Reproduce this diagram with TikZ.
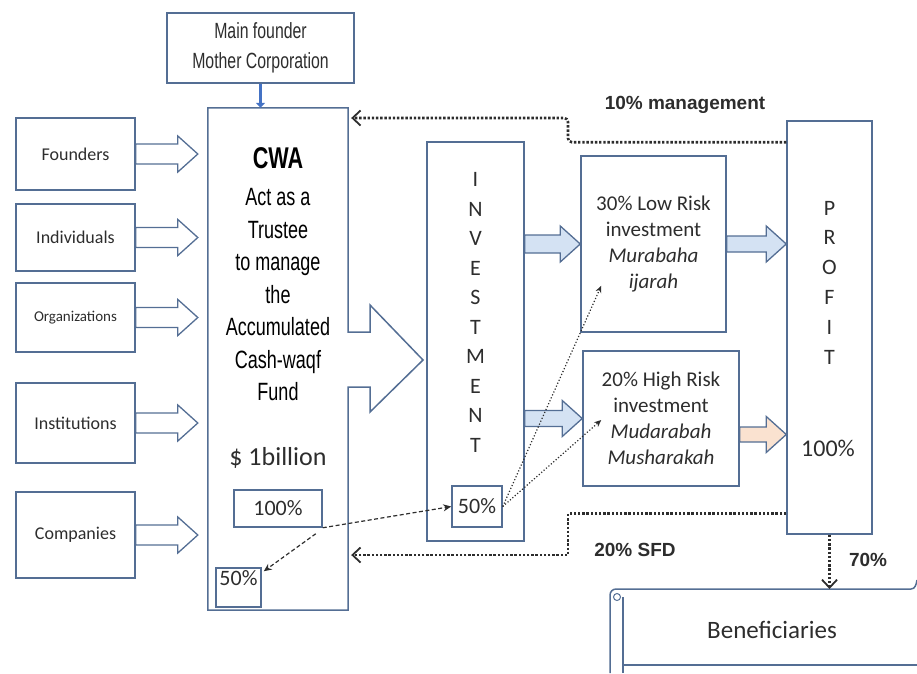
\documentclass[tikz,border=0pt]{standalone}
\usepackage{fontspec}
\setmainfont{Carlito}
\newfontfamily\agency[FakeStretch=0.72]{Liberation Sans}
\newfontfamily\arialfont{Liberation Sans}
\usetikzlibrary{arrows.meta,calc}
\definecolor{edgeblue}{RGB}{84,110,148}
\definecolor{inkgray}{RGB}{45,45,45}
\definecolor{paleblue}{RGB}{212,226,243}
\definecolor{palepeach}{RGB}{250,226,208}
\definecolor{founderblue}{RGB}{68,114,196}
\tikzset{
  box/.style={draw=edgeblue,line width=1.5pt,text=inkgray},
  srcbox/.style={box,minimum width=119,font=\fontsize{18}{20}\selectfont},
  pct/.style={text=inkgray,font=\fontsize{22}{24}\selectfont},
  dotline/.style={dash pattern=on 2.4pt off 1.8pt,line width=2.6pt,inkgray,
    -{Straight Barb[length=8pt,width=15pt,line width=1.8pt]}},
  dashline/.style={dash pattern=on 4pt off 2.5pt,line width=1.2pt,inkgray,-{Stealth[length=8pt,width=7pt]}},
  fineline/.style={dotted,line width=1.2pt,inkgray,-{Stealth[length=7pt,width=6pt]}},
  bigtag/.style={text=inkgray,font=\arialfont\bfseries\fontsize{19}{22}\selectfont},
}
\newcommand\fatarrow[4][]{\draw[draw=edgeblue,line width=1.3pt,#1] let \p1=(#2), \p2=(#3) in
  (\x1,\y1+#4) -- (\x2-20pt,\y1+#4) -- (\x2-20pt,\y1+18pt) -- (\x2,\y1)
  -- (\x2-20pt,\y1-18pt) -- (\x2-20pt,\y1-#4) -- (\x1,\y1-#4) -- cycle;}

\begin{document}
\begin{tikzpicture}[x=1pt,y=-1pt]
  \useasboundingbox (0,0) rectangle (917,673);
  \node[box,minimum width=187,minimum height=70,align=center,
    font=\agency\fontsize{22}{30}\selectfont] (founder) at (260.5,48) {Main founder\\Mother Corporation};
  \node[minimum width=140,minimum height=502] (cwa) at (278,359) {};
  \draw[box] (cwa.north west) -- (cwa.north east) -- (348,332) -- (370,332) -- (370,305)
    -- (423,360) -- (370,412) -- (370,387) -- (348,387) -- (cwa.south east) -- (cwa.south west) -- cycle;
  \node[text=black,font=\agency\bfseries\fontsize{30}{32}\selectfont] (cwatitle) at (278,158) {CWA};
  \node[text=black,align=center,font=\agency\fontsize{25}{32.5}\selectfont] (cwatext) at (278,295)
    {Act as a\\Trustee\\to manage\\the\\Accumulated\\Cash-waqf\\Fund};
  \node[text=inkgray,font=\fontsize{26}{28}\selectfont] (billion) at (278,458) {\$ 1billion};
  \node[box,pct,minimum width=88,minimum height=37] (pct100) at (278,508.5) {100\%};
  \node[box,minimum width=45,minimum height=39,label={[pct,yshift=9]center:50\%}] (cwa50) at (238.5,587.5) {};

  \node[srcbox,minimum height=72] (founders) at (75.5,154) {Founders};
  \node[srcbox,minimum height=67] (indiv) at (75.5,237.5) {Individuals};
  \node[srcbox,minimum height=69,font=\fontsize{15}{17}\selectfont] (orgs) at (75.5,317.5) {Organizations};
  \node[srcbox,minimum height=80] (inst) at (75.5,423) {Institutions};
  \node[srcbox,minimum height=86] (comp) at (75.5,535) {Companies};
  \foreach \src in {founders,indiv,orgs,inst,comp}
    \fatarrow{\src.east}{[xshift=-10pt]cwa.west}{10pt};

  \node[box,minimum width=97,minimum height=399] (invest) at (475.5,341.5) {};
  \node[text=inkgray,align=center,font=\fontsize{22}{29.5}\selectfont] (investtext) at (475.5,312.5)
    {I\\N\\V\\E\\S\\T\\M\\E\\N\\T};
  \node[box,pct,minimum width=50,minimum height=41,inner sep=1pt] (inv50) at (477,506.5) {50\%};

  \node[box,minimum width=145,minimum height=176,align=center,font=\fontsize{21}{26}\selectfont] (low) at (653.5,244)
    {30\% Low Risk\\investment\\\textit{Murabaha}\\\textit{ijarah}};
  \node[box,minimum width=156,minimum height=135,align=center,font=\fontsize{21}{26}\selectfont] (high) at (661,418.5)
    {20\% High Risk\\investment\\\textit{Mudarabah}\\\textit{Musharakah}};
  \node[box,minimum width=85,minimum height=413] (profit) at (829.5,327.5) {};
  \node[text=inkgray,align=center,font=\fontsize{22}{29.8}\selectfont] (profittext) at (829.5,282.5)
    {P\\R\\O\\F\\I\\T};
  \node[text=inkgray,font=\fontsize{24}{26}\selectfont] (profit100) at (828,448) {100\%};

  \fatarrow[fill=paleblue]{invest.east |- low.west}{low.west}{9pt}
  \fatarrow[fill=paleblue]{invest.east |- high.west}{high.west}{8pt}
  \fatarrow[fill=paleblue]{low.east}{profit.west}{8pt}
  \fatarrow[fill=palepeach]{$(high.east)+(0,16)$}{profit.west}{7.5pt}

  \draw[line width=3pt,founderblue,-{Triangle[length=5pt,width=9pt]}] (founder.south) -- (founder.south |- cwa.north);

  \coordinate (mgmt) at (568,118);
  \coordinate (sfd) at (568,555);
  \draw[dotline,rounded corners=4pt] ([yshift=-22pt]profit.north west) -| (mgmt) -- ([xshift=3pt]cwa.east |- mgmt);
  \draw[dotline] ([yshift=21pt]profit.south west) -| (sfd) -- ([xshift=3pt]cwa.east |- sfd);
  \node[bigtag] (mgmtlabel) at (685,105) {10\% management};
  \node[bigtag] (sfdlabel) at (635,550) {20\% SFD};

  \node[text=inkgray,font=\fontsize{25}{27}\selectfont] (benef) at (772,630) {Beneficiaries};
  \draw[box,rounded corners=6pt] (610,673) -- (610,589) -- (911,589);
  \draw[box] (911,589) to[out=0,in=-100] (917,580);
  \draw[box,line width=1.2pt] (623,673) -- (623,597) (623,665) -- (917,665);
  \draw[edgeblue,line width=1pt] (617,597) circle[radius=3.5];
  \draw[dotline] (profit.south) -- (profit.south |- 0,589);
  \node[bigtag] (pct70) at (868,560) {70\%};

  \draw[dashline] (pct100.south east) -- (inv50.west);
  \draw[dashline] ([shift={(-7,6)}]pct100.south east) -- ([shift={(2,4)}]cwa50.north east);
  \draw[fineline] (inv50.east) -- ($(low.south west)+(21,-47)$);
  \draw[fineline] (inv50.east) -- ($(high.west)+(19,1.5)$);
\end{tikzpicture}
\end{document}
